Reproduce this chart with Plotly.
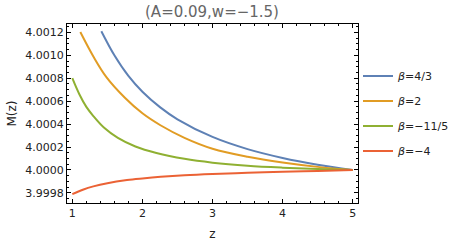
import plotly.graph_objects as go

title_text = "(A=0.09,w=\u22121.5)"
labels = ["<i>\u03b2</i>=4/3", "<i>\u03b2</i>=2", "<i>\u03b2</i>=\u221211/5", "<i>\u03b2</i>=\u22124"]
colors = ["#5E81B5", "#E19C24", "#8FB032", "#EB6235"]

z_blue = [1.414, 1.6, 1.8, 2.0, 2.25, 2.5, 3.0, 3.5, 4.0, 4.5, 5.0]
m_blue = [4.001210, 4.001000, 4.000820, 4.000682, 4.000548, 4.000442, 4.000288, 4.000182, 4.000105, 4.000046, 4.000000]

z_orange = [1.114, 1.3, 1.486, 1.75, 2.0, 2.257, 2.6, 3.0, 3.5, 4.0, 4.5, 5.0]
m_orange = [4.001203, 4.000990, 4.000810, 4.000630, 4.000494, 4.000390, 4.000280, 4.000185, 4.000115, 4.000065, 4.000027, 4.000000]

z_green = [1.0, 1.1, 1.2, 1.3, 1.45, 1.65, 1.9, 2.2, 2.6, 3.0, 3.5, 4.0, 4.5, 5.0]
m_green = [4.000800, 4.000660, 4.000550, 4.000470, 4.000370, 4.000280, 4.000205, 4.000148, 4.000097, 4.000064, 4.000037, 4.000020, 4.000008, 4.000000]

z_red = [1.0, 1.15, 1.3, 1.5, 1.78, 2.0, 2.26, 2.6, 3.0, 3.5, 4.0, 4.5, 5.0]
m_red = [3.999790, 3.999828, 3.999857, 3.999885, 3.999912, 3.999926, 3.999940, 3.999954, 3.999965, 3.999975, 3.999984, 3.999992, 4.000000]

x_ticks = [1, 2, 3, 4, 5]
y_ticks = [3.9998, 4.0000, 4.0002, 4.0004, 4.0006, 4.0008, 4.0010, 4.0012]
y_ticktext = ["3.9998", "4.0000", "4.0002", "4.0004", "4.0006", "4.0008", "4.0010", "4.0012"]

series = [(z_blue, m_blue), (z_orange, m_orange), (z_green, m_green), (z_red, m_red)]

fig = go.Figure()
for i, ((zs, ms), name, col) in enumerate(zip(series, labels, colors)):
    fig.add_trace(go.Scatter(x=zs, y=ms, mode="lines", name=name, legendgroup=f"g{i}",
                             line=dict(color=col, width=2, shape="spline", smoothing=1.0)))

axis_common = dict(showline=True, linecolor="black", linewidth=1, mirror="allticks",
                   ticks="inside", ticklen=4, tickcolor="black", showgrid=False, zeroline=False,
                   automargin=False,
                   tickfont=dict(family="DejaVu Sans", size=11, color="#222222"))

fig.update_layout(
    width=451, height=244,
    margin=dict(l=67, r=93, t=24, b=41, autoexpand=False),
    paper_bgcolor="white", plot_bgcolor="white",
    title=dict(text=title_text, x=212 / 451, xanchor="center", y=1 - 12 / 244, yanchor="middle",
               font=dict(family="DejaVu Sans", size=15, color="#666666")),
    xaxis=dict(range=[0.924, 5.076], tickvals=x_ticks,
               minor=dict(dtick=0.2, tick0=1, ticks="inside", ticklen=2, tickcolor="black"),
               title=dict(text="z", font=dict(family="DejaVu Sans", size=12, color="#222222"), standoff=10),
               **axis_common),
    yaxis=dict(range=[3.999712, 4.001273], tickvals=y_ticks, ticktext=y_ticktext,
               minor=dict(tickvals=[3.99975 + 0.00005 * i for i in range(31)], ticks="inside", ticklen=2, tickcolor="black"),
               title=dict(text="M(z)", font=dict(family="DejaVu Sans", size=12, color="#222222"), standoff=6),
               **axis_common),
    legend=dict(x=1.0, xanchor="left", y=0.5, yanchor="middle", bgcolor="rgba(0,0,0,0)",
                font=dict(family="DejaVu Sans", size=11, color="#222222"), tracegroupgap=6,
                traceorder="grouped", itemwidth=30),
    showlegend=True,
)

fig.write_html("out.html", config={"displayModeBar": False},
               post_script="document.body.style.margin='0px';document.body.style.overflow='hidden';")
